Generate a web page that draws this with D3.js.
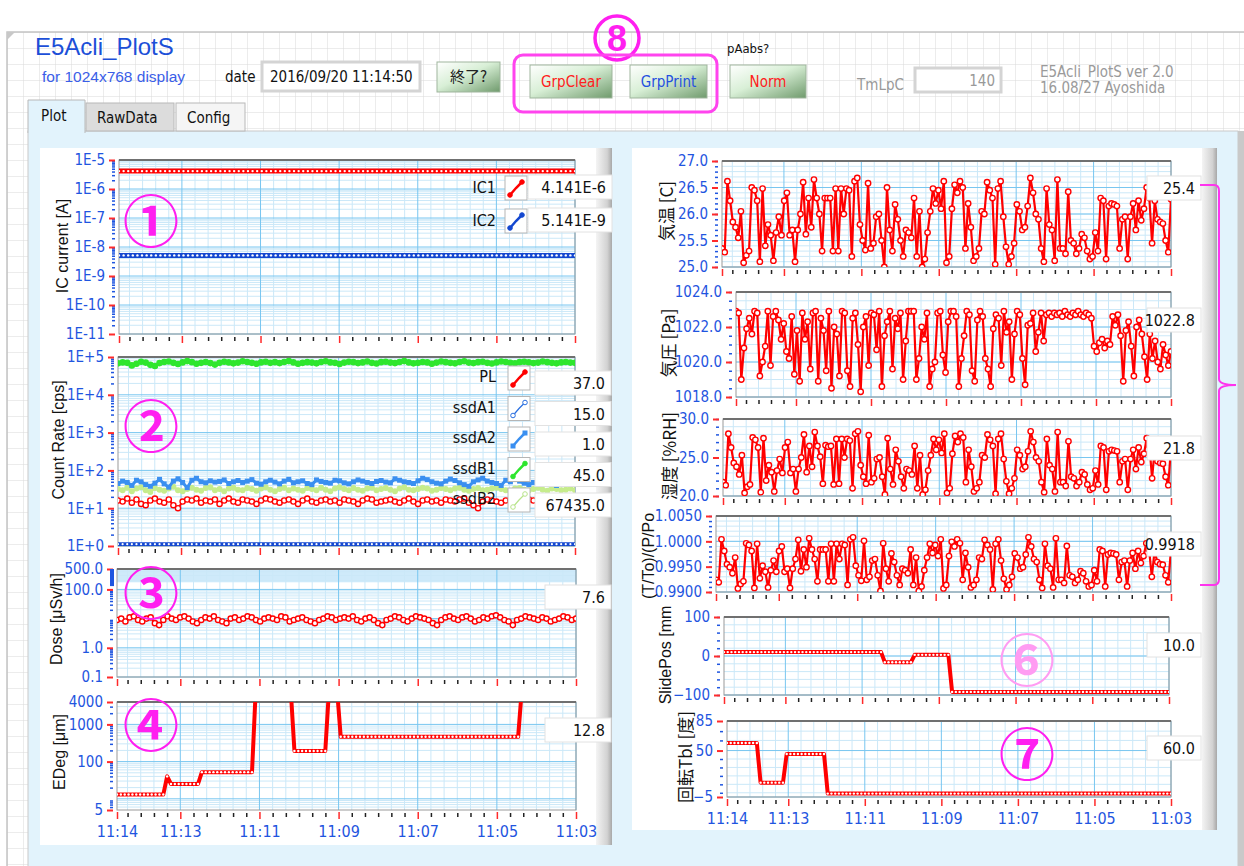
<!DOCTYPE html>
<html>
<head>
<meta charset="utf-8">
<script src="https://cdn.jsdelivr.net/npm/d3@7"></script>
<style>
  body { margin: 0; background: #fff; }
  svg { display: block; }
  text { font-family: "Liberation Sans Narrow", "DejaVu Sans Condensed", "Liberation Sans", sans-serif; }
  .jp { font-family: "Noto Sans CJK JP", sans-serif; }
</style>
</head>
<body>
<svg id="chart" width="1244" height="866"></svg>
<script>
// ---------- time axis ----------
const T_LEFT = new Date(2016, 8, 20, 11, 14, 36);
const T_RIGHT = new Date(2016, 8, 20, 11, 3, 0);
const majorLabels = ["11:13", "11:11", "11:09", "11:07", "11:05", "11:03"];

// ---------- data (newest sample first, left to right) ----------
// step series as [value, sample count] runs
const ic1Runs = [[4.14e-6, 100]];
const ic2Runs = [[5.14e-9, 100]];
const ssdA2Runs = [[1.12, 100]];
const edegRuns = [[13, 13], [40, 1], [25, 8], [52, 14], [9999, 10], [193, 9], [9999, 3], [466, 47], [9999, 15]];
const slideRuns = [[10, 43], [-16, 8], [3, 10], [-92, 59]];
const rotRuns = [[59, 9], [12, 7], [46, 11], [-1, 93]];

const ssdB1 = [6.8e4,7.2e4,7.0e4,6.0e4,6.6e4,7.5e4,7.1e4,6.2e4,5.8e4,6.9e4,7.4e4,7.6e4,7.0e4,6.5e4,7.2e4,7.8e4,7.3e4,6.6e4,7.0e4,7.4e4,
  6.9e4,6.3e4,7.0e4,7.5e4,7.2e4,6.8e4,7.1e4,7.7e4,7.4e4,7.0e4,6.6e4,7.2e4,7.5e4,7.0e4,7.3e4,6.9e4,7.4e4,7.8e4,7.2e4,6.6e4,
  7.0e4,7.3e4,7.1e4,6.8e4,7.4e4,7.7e4,7.2e4,7.0e4,6.5e4,7.1e4,7.5e4,7.3e4,6.9e4,7.2e4,7.6e4,7.0e4,6.7e4,7.3e4,7.5e4,7.1e4,
  6.9e4,7.4e4,7.8e4,7.2e4,6.8e4,7.0e4,7.4e4,7.2e4,6.6e4,7.1e4,7.6e4,7.3e4,7.0e4,6.8e4,7.4e4,7.7e4,7.1e4,6.9e4,7.3e4,7.5e4,
  7.0e4,6.7e4,7.2e4,7.6e4,7.4e4,7.0e4,6.8e4,7.3e4,7.5e4,7.2e4,6.9e4,7.1e4,7.6e4,7.3e4,7.0e4,6.8e4,7.2e4,7.4e4,7.1e4,7.0e4];
const ssdA1 = [45,52,48,40,55,50,42,38,46,58,44,36,52,60,48,35,55,62,50,47,53,49,51,56,45,50,54,48,52,57,
  46,43,50,55,49,44,52,58,47,50,53,45,42,56,51,48,46,55,53,47,44,50,56,52,48,45,51,54,49,47,
  60,55,50,48,45,53,62,57,50,46,44,52,59,54,47,42,38,50,56,62,52,48,45,40,55,50,58,52,46,42,
  48,52,50,47,44,40,45,48,50,46];
const ssdB2 = [32,30,35,28,33,36,30,27,34,31,29,33,37,30,28,32,35,31,29,34,36,30,32,28,33,35,31,30,34,32,
  29,33,36,31,28,32,35,30,33,31,29,34,32,30,35,31,28,33,36,32,30,34,31,29,33,35,30,32,34,31,
  28,33,36,31,30,32,35,33,29,31,34,32,30,33,35,31,29,32,34,30,31,33,35,32,30,28,33,34,31,30,
  32,35,31,29,33,32,30,31,33,30];
const pl = [16,15,18,14,17,13,12,16,18,15,14,17,12,10,15,17,16,18,14,16,15,17,13,16,18,15,14,17,16,15,
  13,16,18,17,15,14,16,17,15,13,16,18,15,14,16,17,15,16,14,17,16,15,13,16,18,17,14,15,16,17,
  15,14,16,18,15,13,16,17,15,16,14,17,16,15,17,18,14,12,10,15,17,16,15,14,16,17,15,16,14,17,
  16,18,15,14,16,17,13,16,15,17];
const dose = [9,10,8,11,12,9,8,10,11,7,6,9,12,10,9,11,12,10,8,7,9,11,10,12,9,8,7,10,11,9,
  10,12,11,9,8,10,11,10,9,12,11,8,9,10,11,9,8,7,9,10,12,11,9,10,11,10,12,9,8,10,
  11,9,7,6,9,10,12,11,9,8,10,12,11,10,9,7,6,9,11,12,10,9,11,12,10,8,9,11,10,12,
  13,11,9,8,6,9,10,12,11,10,9,11,10,8,9,10,12,11,9,10];

const temp = [25.35,25.28,26.62,26.25,25.85,25.75,25.55,26.05,25.08,25.22,25.3,26.5,26.45,26.25,25.1,26.48,25.4,25.8,25.6,25.12,
  25.65,25.95,25.6,26.25,26.4,25.6,25.7,25.1,25.7,26.0,26.6,25.62,26.3,25.75,26.65,26.3,26.0,25.3,26.3,26.3,
  26.3,25.3,26.48,25.3,26.48,26.0,26.48,26.45,25.2,26.62,26.68,25.8,25.5,25.32,26.58,25.35,25.45,25.95,26.0,25.5,
  25.0,26.5,25.7,25.3,26.18,25.9,25.5,25.2,25.7,25.65,25.55,26.3,25.2,26.05,25.0,25.15,25.65,26.05,26.48,26.2,
  26.45,26.1,26.62,25.08,25.2,26.1,26.55,26.4,26.62,26.5,25.35,26.2,25.75,25.12,25.2,25.35,26.05,26.0,26.6,26.45,
  26.3,25.05,26.48,26.62,25.95,25.38,25.05,25.2,25.45,26.18,26.05,25.7,25.75,26.15,26.68,26.4,26.0,25.9,25.35,25.1,
  26.48,25.8,25.7,25.12,26.65,25.35,25.35,25.25,26.42,25.5,25.45,25.25,25.35,25.62,25.55,25.3,25.15,25.2,25.65,25.3,
  26.3,26.25,25.15,26.15,26.2,26.18,26.15,25.35,25.9,25.95,25.15,25.95,26.2,25.7,26.25,25.88,26.1,26.5,26.3,25.45,
  26.25,25.9,25.85,25.82,25.5,25.28,26.28];
const press = [1022.9,1022.8,1019.0,1020.8,1021.9,1022.5,1021.6,1022.9,1022.8,1019.2,1020.0,1020.9,1022.9,1019.8,1022.6,1022.9,1022.4,1021.3,1022.2,1020.6,
  1020.2,1022.6,1019.3,1021.8,1018.9,1022.8,1021.3,1022.3,1019.6,1022.8,1022.9,1018.9,1022.5,1021.8,1019.5,1022.9,1018.5,1022.0,1021.6,1019.2,
  1022.9,1022.8,1019.5,1018.6,1022.5,1022.8,1021.0,1018.3,1022.0,1022.6,1019.8,1022.8,1022.7,1020.7,1022.9,1018.6,1021.5,1022.3,1022.9,1019.6,
  1022.5,1021.9,1022.8,1019.0,1021.2,1022.9,1022.9,1022.9,1019.0,1020.2,1022.0,1021.3,1022.8,1018.6,1019.6,1020.0,1022.8,1022.9,1020.4,1019.4,
  1022.3,1022.9,1022.9,1022.6,1018.6,1020.2,1021.5,1022.9,1022.7,1019.5,1018.9,1022.4,1022.9,1022.6,1020.2,1019.6,1018.6,1021.9,1022.7,1022.5,
  1019.8,1022.9,1021.7,1022.3,1019.0,1021.6,1022.9,1022.7,1020.2,1018.7,1022.1,1022.2,1022.8,1020.6,1021.7,1022.8,1021.2,1022.7,1022.8,1022.6,
  1022.8,1022.7,1022.8,1022.6,1022.9,1022.7,1022.6,1022.8,1022.7,1022.9,1022.7,1022.6,1022.8,1022.7,1022.5,1020.9,1020.6,1021.1,1021.3,1020.8,
  1021.2,1021.0,1022.6,1022.1,1022.7,1021.5,1018.9,1021.8,1022.3,1020.9,1019.2,1022.0,1022.4,1021.6,1020.3,1019.0,1021.6,1020.2,1021.2,1020.0,
  1019.6,1021.0,1020.4,1019.8,1020.6];
const humid = [21.8,21.4,28.1,26.3,24.3,23.8,22.8,25.3,20.4,21.2,21.5,27.6,27.3,26.3,20.5,27.5,22.0,24.0,23.1,20.6,
  23.3,24.8,23.0,26.3,27.0,23.0,23.5,20.6,23.5,25.0,28.0,23.1,26.5,23.8,28.3,26.5,25.1,21.6,26.6,26.4,
  26.5,21.5,27.4,21.6,27.4,25.0,27.4,27.2,21.0,28.1,28.4,24.0,22.5,21.6,27.9,21.8,22.3,24.8,25.0,22.5,
  20.2,27.5,23.5,21.5,26.0,24.5,22.5,21.0,23.5,23.3,22.8,26.5,21.0,25.3,20.2,20.8,23.3,25.3,27.4,26.0,
  27.3,25.6,28.1,20.4,21.0,25.5,27.8,27.0,28.1,27.6,21.8,26.0,23.8,20.6,21.0,21.8,25.3,25.0,28.0,27.3,
  26.5,20.3,27.4,28.1,24.8,21.9,20.3,21.0,22.3,26.0,25.3,23.5,23.8,25.8,28.4,27.0,25.0,24.5,21.8,20.5,
  27.4,24.0,23.5,20.6,28.3,21.8,21.8,21.3,27.1,22.5,22.3,21.3,21.8,23.1,22.8,21.5,20.8,21.0,23.3,21.5,
  26.5,26.3,20.8,25.8,26.0,25.9,25.8,21.8,24.5,24.8,20.8,24.8,26.0,23.5,26.3,24.4,25.5,27.5,26.5,22.3,
  26.3,24.5,24.3,24.2,22.5,21.4,26.4];
const ratio = [0.9924,0.9919,1.0004,0.9981,0.9955,0.9949,0.9937,0.9968,0.9907,0.9916,0.9921,0.9996,0.9993,0.9981,0.9908,0.9995,0.9927,0.9952,0.9940,0.9909,
  0.9943,0.9962,0.9940,0.9981,0.9990,0.9940,0.9946,0.9908,0.9946,0.9965,1.0003,0.9941,0.9984,0.9949,1.0006,0.9984,0.9965,0.9921,0.9984,0.9984,
  0.9984,0.9921,0.9995,0.9921,0.9995,0.9965,0.9995,0.9993,0.9914,1.0004,1.0008,0.9952,0.9933,0.9922,1.0001,0.9924,0.9930,0.9962,0.9965,0.9933,
  0.9902,0.9996,0.9946,0.9921,0.9976,0.9959,0.9933,0.9914,0.9946,0.9943,0.9937,0.9984,0.9914,0.9968,0.9902,0.9911,0.9943,0.9968,0.9995,0.9977,
  0.9993,0.9971,1.0004,0.9907,0.9914,0.9971,0.9999,0.9990,1.0004,0.9996,0.9924,0.9977,0.9949,0.9909,0.9914,0.9924,0.9968,0.9965,1.0003,0.9993,
  0.9984,0.9905,0.9995,1.0004,0.9962,0.9926,0.9905,0.9914,0.9930,0.9976,0.9968,0.9946,0.9949,0.9974,1.0008,0.9990,0.9965,0.9959,0.9924,0.9908,
  0.9995,0.9952,0.9946,0.9909,1.0006,0.9924,0.9924,0.9918,0.9991,0.9933,0.9930,0.9918,0.9924,0.9941,0.9937,0.9921,0.9911,0.9914,0.9943,0.9921,
  0.9984,0.9981,0.9911,0.9974,0.9977,0.9976,0.9974,0.9924,0.9959,0.9962,0.9911,0.9962,0.9977,0.9946,0.9981,0.9957,0.9971,0.9996,0.9984,0.9930,
  0.9981,0.9959,0.9955,0.9954,0.9933,0.9919,0.9983];

// legends and read-outs
const icNames = ["IC1", "IC2"];
const icReadouts = ["4.141E-6", "5.141E-9"];
const crNames = ["PL", "ssdA1", "ssdA2", "ssdB1", "ssdB2"];
const crReadouts = ["37.0", "15.0", "1.0", "45.0", "67435.0"];
const doseReadout = "7.6", edegReadout = "12.8";
const tempReadout = "25.4", pressReadout = "1022.8", humidReadout = "21.8";
const ratioReadout = "0.9918", slideReadout = "10.0", rotReadout = "60.0";

// tick values
const icTicks = [1e-5, 1e-6, 1e-7, 1e-8, 1e-9, 1e-10, 1e-11];
const crTicks = [1e5, 1e4, 1e3, 1e2, 1e1, 1];
const doseTicks = [500, 100, 1, 0.1];
const edegTicks = [4000, 1000, 100, 5];
const tempTicks = [27, 26.5, 26, 25.5, 25];
const pressTicks = [1024, 1022, 1020, 1018];
const humidTicks = [30, 25, 20];
const ratioTicks = [1.005, 1.0, 0.995, 0.99];
const slideTicks = [100, 0, -100];
const rotTicks = [85, 50, -5];

// ---------- helpers ----------
const svg = d3.select("#chart");
const defs = svg.append("defs");
const BLUE_TXT = "#1f55e0", RED = "#ff0000";

function expand(runs) { return runs.flatMap(([v, n]) => Array(n).fill(v)); }
function withTimes(vals) {
  const step = (T_LEFT - T_RIGHT) / (vals.length - 1);
  return vals.map((v, i) => ({ t: new Date(+T_LEFT - i * step), v }));
}
function hm(s) { const [h, m] = s.split(":"); return new Date(2016, 8, 20, +h, +m, 0); }
const majorTimes = majorLabels.map(hm);
const minorTimes = d3.timeSecond.every(20).range(T_RIGHT, T_LEFT)
  .filter(t => !majorTimes.some(m => +m === +t));
function logMinors(lo, hi) {
  const out = [];
  for (let e = Math.floor(Math.log10(lo)); e < Math.ceil(Math.log10(hi)); e++)
    for (let k = 2; k <= 9; k++) { const v = k * Math.pow(10, e); if (v > lo && v < hi) out.push(v); }
  return out;
}
function linMinors(lo, hi, step) {
  return d3.range(Math.round((hi - lo) / step) + 1).map(i => +(lo + i * step).toFixed(6));
}

let clipCount = 0;
function drawPlot(c) {
  const x = d3.scaleTime().domain([T_LEFT, T_RIGHT]).range([c.left, c.right]);
  const y = (c.log ? d3.scaleLog() : d3.scaleLinear()).domain(c.domain).range([c.bottom, c.top]);
  const g = svg.append("g");
  const w = c.right - c.left, h = c.bottom - c.top;
  g.append("rect").attr("x", c.left).attr("y", c.top).attr("width", w).attr("height", h).attr("fill", "#fff");
  (c.bands || []).forEach(b => g.append("rect").attr("x", c.left).attr("width", w)
    .attr("y", y(b[1])).attr("height", y(b[0]) - y(b[1])).attr("fill", "#cfeafa"));

  const vline = (data, col) => g.append("g").selectAll("line").data(data).join("line")
    .attr("x1", d => x(d)).attr("x2", d => x(d)).attr("y1", c.top).attr("y2", c.bottom)
    .attr("stroke", col).attr("stroke-width", 1);
  const hline = (data, col) => g.append("g").selectAll("line").data(data).join("line")
    .attr("x1", c.left).attr("x2", c.right).attr("y1", d => y(d)).attr("y2", d => y(d))
    .attr("stroke", col).attr("stroke-width", 1);
  vline(minorTimes, "#cbe8f8");
  hline(c.minors, "#cbe8f8");
  vline(majorTimes, "#78c6f0");
  hline(c.grid || c.ticks, "#78c6f0");
  g.append("rect").attr("x", c.left).attr("y", c.top).attr("width", w).attr("height", h)
    .attr("fill", "none").attr("stroke", "#9a9a9a");
  g.append("line").attr("x1", c.left).attr("x2", c.right).attr("y1", c.top).attr("y2", c.top)
    .attr("stroke", "#707070").attr("stroke-width", 2);

  // y axis
  const ym = g.append("g").attr("transform", `translate(${c.left - 4},0)`)
    .call(d3.axisLeft(y).tickValues(c.minors).tickFormat("").tickSize(3));
  ym.select(".domain").remove();
  ym.selectAll("line").attr("stroke", BLUE_TXT).attr("stroke-width", 1.5);
  const ya = g.append("g").attr("transform", `translate(${c.left - 4},0)`)
    .call(d3.axisLeft(y).tickValues(c.ticks).tickFormat(c.fmt).tickSize(6).tickPadding(4));
  ya.select(".domain").remove();
  ya.selectAll("line").attr("stroke", "#ff2a2a").attr("stroke-width", 2);
  ya.selectAll("text").attr("fill", BLUE_TXT).style("font-size", "15px");

  // x axis
  const xm = g.append("g").attr("transform", `translate(0,${c.bottom + 3})`)
    .call(d3.axisBottom(x).tickValues(minorTimes).tickFormat("").tickSize(4));
  xm.select(".domain").remove();
  xm.selectAll("line").attr("stroke", "#222").attr("stroke-width", 1.5);
  const xa = g.append("g").attr("transform", `translate(0,${c.bottom + 2})`)
    .call(d3.axisBottom(x).tickValues([T_LEFT, ...majorTimes]).tickFormat(d3.timeFormat("%H:%M"))
      .tickSize(7).tickPadding(7));
  xa.select(".domain").remove();
  xa.selectAll("line").attr("stroke", "#ff2a2a").attr("stroke-width", 1.5);
  xa.selectAll("text").attr("fill", BLUE_TXT).style("font-size", "16px")
    .style("display", c.xLabels ? null : "none");

  const id = "clip" + (clipCount++);
  defs.append("clipPath").attr("id", id).append("rect")
    .attr("x", c.left).attr("y", c.top).attr("width", w).attr("height", h);
  return { x, y, clip: id };
}

function drawSeries(p, vals, s) {
  const pts = withTimes(vals);
  const g = svg.append("g").attr("clip-path", `url(#${p.clip})`);
  g.append("path").datum(pts)
    .attr("d", d3.line().x(d => p.x(d.t)).y(d => p.y(d.v)))
    .attr("fill", "none").attr("stroke", s.color).attr("stroke-width", s.width)
    .attr("stroke-linejoin", "round");
  if (s.marker === "square") {
    g.selectAll("rect").data(pts).join("rect")
      .attr("x", d => p.x(d.t) - 2.5).attr("y", d => p.y(d.v) - 2.5)
      .attr("width", 5).attr("height", 5).attr("fill", s.color);
  } else if (s.marker) {
    const hollow = s.marker === "hollow", dot = s.marker === "dot";
    g.selectAll("circle").data(pts).join("circle")
      .attr("cx", d => p.x(d.t)).attr("cy", d => p.y(d.v))
      .attr("r", s.r || 2.6)
      .attr("fill", hollow || dot ? "#fff" : s.color)
      .attr("stroke", dot ? "none" : s.color)
      .attr("stroke-width", 1.4);
  }
}

function readout(x, y, w, txt) {
  svg.append("rect").attr("x", x).attr("y", y - 12).attr("width", w).attr("height", 24)
    .attr("fill", "#fff").attr("stroke", "#e2e2e2");
  svg.append("text").attr("x", x + w - 6).attr("y", y + 6).attr("text-anchor", "end")
    .style("font-size", "16px").attr("fill", "#111").text(txt);
}
function swatch(x, y, color, marker) {
  const g = svg.append("g").attr("transform", `translate(${x},${y})`);
  g.append("rect").attr("width", 22).attr("height", 24).attr("fill", "#fff").attr("stroke", "#b5b5b5");
  g.append("path").attr("d", "M5,19 L11,12 L17,6").attr("fill", "none")
    .attr("stroke", color).attr("stroke-width", marker === "thin" ? 1.2 : 2.5);
  [[5, 19], [17, 6]].forEach(([cx, cy]) => {
    if (marker === "square") g.append("rect").attr("x", cx - 2.5).attr("y", cy - 2.5).attr("width", 5).attr("height", 5).attr("fill", color);
    else g.append("circle").attr("cx", cx).attr("cy", cy).attr("r", 2.3)
      .attr("fill", marker === "hollow" || marker === "thin" ? "#fff" : color).attr("stroke", color);
  });
}
function yTitle(x, y, txt, jp) {
  svg.append("text").attr("transform", `translate(${x},${y}) rotate(-90)`)
    .attr("text-anchor", "middle").attr("dominant-baseline", "central")
    .attr("class", jp ? "jp" : null).style("font-size", jp ? "17px" : "16px")
    .style("font-family", jp ? null : "'Liberation Sans', sans-serif")
    .attr("fill", "#111").text(txt);
}
function circled(x, y, ch, col) {
  svg.append("text").attr("x", x).attr("y", y).attr("class", "jp")
    .attr("text-anchor", "middle").attr("dominant-baseline", "central")
    .style("font-size", "56px").style("font-weight", "700").attr("fill", col).text(ch);
}

// ---------- front panel ----------
const pat = defs.append("pattern").attr("id", "grid").attr("width", 16).attr("height", 16)
  .attr("patternUnits", "userSpaceOnUse").attr("x", 7).attr("y", 32);
pat.append("path").attr("d", "M16,0 L0,0 L0,16").attr("fill", "none").attr("stroke", "#d9d9d9");
svg.append("rect").attr("x", 7).attr("y", 32).attr("width", 1237).attr("height", 834).attr("fill", "url(#grid)");
svg.append("path").attr("d", "M7,866 L7,32 L1244,32").attr("fill", "none").attr("stroke", "#c4c4c4").attr("stroke-width", 1.5);
svg.append("path").attr("d", "M7,32 L15,32 L7,40 Z").attr("fill", "#c8c8c8");

const bg = defs.append("linearGradient").attr("id", "btn").attr("x1", 0).attr("y1", 0).attr("x2", 1).attr("y2", 1);
bg.append("stop").attr("offset", 0).attr("stop-color", "#ffffff");
bg.append("stop").attr("offset", 0.45).attr("stop-color", "#d8efd6");
bg.append("stop").attr("offset", 1).attr("stop-color", "#6f9a6c");
function button(x, y, w, h, txt, col, jp) {
  svg.append("rect").attr("x", x).attr("y", y).attr("width", w).attr("height", h)
    .attr("fill", "url(#btn)").attr("stroke", "#9fb59d");
  svg.append("text").attr("x", x + w / 2).attr("y", y + h / 2 + 5).attr("text-anchor", "middle")
    .attr("class", jp ? "jp" : null).style("font-size", "15px").attr("fill", col).text(txt);
}

svg.append("text").attr("x", 35).attr("y", 55).style("font-size", "24px")
  .style("font-family", "'Liberation Sans', sans-serif").attr("fill", "#1c4fd8").text("E5Acli_PlotS");
svg.append("text").attr("x", 42).attr("y", 82).style("font-size", "15.5px")
  .style("font-family", "'Liberation Sans', sans-serif").attr("fill", "#3a5ee8").text("for 1024x768 display");
svg.append("text").attr("x", 225).attr("y", 82).style("font-size", "15px").attr("fill", "#111").text("date");
svg.append("rect").attr("x", 262).attr("y", 62).attr("width", 158).attr("height", 29)
  .attr("fill", "#fff").attr("stroke", "#d4d4d4").attr("stroke-width", 3);
svg.append("text").attr("x", 270).attr("y", 82).style("font-size", "15px").attr("fill", "#111").text("2016/09/20 11:14:50");
button(437, 62, 63, 30, "終了?", "#222", true);
button(530, 65, 82, 33, "GrpClear", "#ff2020");
button(630, 65, 77, 33, "GrpPrint", "#2550e0");
button(730, 65, 76, 33, "Norm", "#ff2020");
svg.append("text").attr("x", 727).attr("y", 53).style("font-size", "13px").attr("fill", "#111").text("pAabs?");
svg.append("text").attr("x", 857).attr("y", 90).style("font-size", "15px").attr("fill", "#999").text("TmLpC");
svg.append("rect").attr("x", 915).attr("y", 68).attr("width", 86).attr("height", 24)
  .attr("fill", "#fff").attr("stroke", "#d4d4d4").attr("stroke-width", 3);
svg.append("text").attr("x", 995).attr("y", 86).attr("text-anchor", "end").style("font-size", "15px").attr("fill", "#999").text("140");
svg.append("text").attr("x", 1040).attr("y", 77).style("font-size", "15px").attr("fill", "#9a9a9a").text("E5Acli_PlotS ver 2.0");
svg.append("text").attr("x", 1040).attr("y", 93).style("font-size", "15px").attr("fill", "#9a9a9a").text("16.08/27 Ayoshida");

// tab control
svg.append("rect").attr("x", 28).attr("y", 131).attr("width", 1210).attr("height", 740)
  .attr("fill", "#e2f3fc").attr("stroke", "#c9c9c9");
svg.append("rect").attr("x", 1238).attr("y", 131).attr("width", 6).attr("height", 735).attr("fill", "#c9c9c9");
svg.append("rect").attr("x", 86).attr("y", 103).attr("width", 88).attr("height", 28).attr("fill", "#dcdcdc").attr("stroke", "#b8b8b8");
svg.append("rect").attr("x", 176).attr("y", 103).attr("width", 69).attr("height", 28).attr("fill", "#f5f5f5").attr("stroke", "#b8b8b8");
svg.append("path").attr("d", "M28,133 L28,100 L85,100 L85,133").attr("fill", "#e2f3fc").attr("stroke", "#b8b8b8");
svg.append("text").attr("x", 41).attr("y", 121).style("font-size", "15px").attr("fill", "#111").text("Plot");
svg.append("text").attr("x", 97).attr("y", 123).style("font-size", "15px").attr("fill", "#111").text("RawData");
svg.append("text").attr("x", 187).attr("y", 123).style("font-size", "15px").attr("fill", "#111").text("Config");

// white chart panels with bevelled right edge
const bev = defs.append("linearGradient").attr("id", "bev").attr("x1", 0).attr("x2", 1);
bev.append("stop").attr("offset", 0).attr("stop-color", "#f4f4f4");
bev.append("stop").attr("offset", 0.7).attr("stop-color", "#d2d2d2");
bev.append("stop").attr("offset", 1).attr("stop-color", "#a8a8a8");
svg.append("rect").attr("x", 40).attr("y", 148).attr("width", 572).attr("height", 697).attr("fill", "#fff");
svg.append("rect").attr("x", 596).attr("y", 148).attr("width", 16).attr("height", 697).attr("fill", "url(#bev)");
svg.append("rect").attr("x", 632).attr("y", 148).attr("width", 585).attr("height", 682).attr("fill", "#fff");
svg.append("rect").attr("x", 1202).attr("y", 148).attr("width", 15).attr("height", 682).attr("fill", "url(#bev)");

// ---------- left charts ----------
const expFmt = d => { const e = Math.round(Math.log10(d)); return "1E" + (e >= 0 ? "+" : "") + e; };
const p1 = drawPlot({ left: 119, right: 575, top: 160, bottom: 334, log: true, domain: [1e-11, 1e-5],
  ticks: icTicks, fmt: expFmt, minors: logMinors(1e-11, 1e-5) });
drawSeries(p1, expand(ic1Runs), { color: RED, width: 5, marker: "dot", r: 1.2 });
drawSeries(p1, expand(ic2Runs), { color: "#1448d0", width: 5, marker: "dot", r: 1.2 });

const p2 = drawPlot({ left: 118, right: 575, top: 357, bottom: 546, log: true, domain: [1, 1e5],
  ticks: crTicks, fmt: expFmt, minors: logMinors(1, 1e5) });
drawSeries(p2, ssdB1, { color: "#2ee62e", width: 3, marker: "filled", r: 2.6 });
drawSeries(p2, ssdB2, { color: "#c6ec8c", width: 2.5, marker: "filled", r: 2.3 });
drawSeries(p2, ssdA1, { color: "#3a8ff0", width: 3, marker: "square" });
drawSeries(p2, pl, { color: RED, width: 2, marker: "hollow", r: 2.6 });
drawSeries(p2, expand(ssdA2Runs), { color: "#1448d0", width: 4, marker: "dot", r: 1.1 });

const p3 = drawPlot({ left: 117, right: 576, top: 569, bottom: 677, log: true, domain: [0.1, 500],
  ticks: doseTicks, grid: [100, 10, 1, 0.1], fmt: d3.format(".1f"), minors: logMinors(0.1, 500), bands: [[175, 500]] });
svg.append("rect").attr("x", 110).attr("y", p3.y(500)).attr("width", 4).attr("height", p3.y(130) - p3.y(500)).attr("fill", "#1f55e0");
drawSeries(p3, dose, { color: RED, width: 2, marker: "hollow", r: 2.6 });

const p4 = drawPlot({ left: 117, right: 576, top: 702, bottom: 810, log: true, domain: [5, 4000],
  ticks: edegTicks, grid: [1000, 100, 10], fmt: d3.format("d"), minors: logMinors(5, 4000), xLabels: true });
drawSeries(p4, expand(edegRuns), { color: RED, width: 4, marker: "dot", r: 1.2 });

// left legends
icNames.forEach((n, i) => {
  const cy = [188, 221][i];
  svg.append("text").attr("x", 496).attr("y", cy + 5).attr("text-anchor", "end")
    .style("font-size", "16px").attr("fill", "#111").text(n);
  swatch(505, cy - 12, i ? "#1448d0" : RED, "filled");
  readout(528, cy - 1, 84, icReadouts[i]);
});
const crColors = [RED, "#2a6fe0", "#3a8ff0", "#2ee62e", "#b8e48a"];
const crMarks = ["filled", "thin", "square", "filled", "thin"];
crNames.forEach((n, i) => {
  const cy = 377 + i * 30.5;
  svg.append("text").attr("x", 496).attr("y", cy + 5).attr("text-anchor", "end")
    .style("font-size", "16px").attr("fill", "#111").text(n);
  swatch(508, cy - 11, crColors[i], crMarks[i]);
  readout(535, cy + 6, 76, crReadouts[i]);
});
readout(545, 597, 66, doseReadout);
readout(545, 730, 66, edegReadout);

yTitle(62, 246, "IC current  [A]");
yTitle(58, 440, "Count Rate [cps]");
yTitle(56, 619, "Dose [μSv/h]");
yTitle(59, 752, "EDeg [μm]");

// ---------- right charts ----------
const p5 = drawPlot({ left: 722, right: 1171, top: 161, bottom: 267, domain: [25, 27],
  ticks: tempTicks, fmt: d3.format(".1f"), minors: linMinors(25, 27, 0.1) });
drawSeries(p5, temp, { color: RED, width: 2.2, marker: "hollow", r: 2.7 });

const p6 = drawPlot({ left: 736, right: 1171, top: 292, bottom: 397, domain: [1018, 1024],
  ticks: pressTicks, fmt: d3.format(".1f"), minors: linMinors(1018, 1024, 0.5) });
drawSeries(p6, press, { color: RED, width: 2.2, marker: "hollow", r: 2.7 });

const p7 = drawPlot({ left: 723, right: 1171, top: 419, bottom: 496, domain: [20, 30],
  ticks: humidTicks, fmt: d3.format(".1f"), minors: linMinors(20, 30, 1) });
drawSeries(p7, humid, { color: RED, width: 2.2, marker: "hollow", r: 2.7 });

const p8 = drawPlot({ left: 716, right: 1171, top: 516, bottom: 592, domain: [0.99, 1.005],
  ticks: ratioTicks, fmt: d3.format(".4f"), minors: linMinors(0.99, 1.005, 0.001) });
drawSeries(p8, ratio, { color: RED, width: 2.2, marker: "hollow", r: 2.7 });

const p9 = drawPlot({ left: 724, right: 1169, top: 617, bottom: 695, domain: [-100, 100],
  ticks: slideTicks, fmt: d3.format("d"), minors: linMinors(-100, 100, 20) });
drawSeries(p9, expand(slideRuns), { color: RED, width: 4, marker: "dot", r: 1.2 });

const p10 = drawPlot({ left: 727, right: 1171, top: 721, bottom: 797, domain: [-5, 85],
  ticks: rotTicks, fmt: d3.format("d"), minors: [0, 10, 20, 30, 40, 62, 73], xLabels: true });
drawSeries(p10, expand(rotRuns), { color: RED, width: 4, marker: "dot", r: 1.2 });

readout(1147, 188, 54, tempReadout);
readout(1147, 320, 54, pressReadout);
readout(1147, 448, 54, humidReadout);
readout(1147, 544, 54, ratioReadout);
readout(1147, 645, 54, slideReadout);
readout(1147, 748, 54, rotReadout);

yTitle(665, 211, "気温 [C]", true);
yTitle(667, 343, "気圧 [Pa]", true);
yTitle(668, 456, "湿度 [%RH]", true);
yTitle(648, 556, "(T/To)/(P/Po");
yTitle(665, 655, "SlidePos [mm");
yTitle(684, 757, "回転Tbl [度]", true);

// ---------- annotations ----------
const MAG = "#ff1ff0";
circled(151, 217, "①", MAG);
circled(151, 422, "②", MAG);
circled(151, 589, "③", MAG);
circled(151, 721, "④", MAG);
circled(1027, 656, "⑥", "#ff9cf2");
circled(1027, 750, "⑦", MAG);
// ⑧ as ring + digit so it stays inside the top edge
svg.append("circle").attr("cx", 617).attr("cy", 38).attr("r", 22)
  .attr("fill", "none").attr("stroke", MAG).attr("stroke-width", 3.5);
svg.append("text").attr("x", 617).attr("y", 51).attr("text-anchor", "middle")
  .style("font-family", "'Liberation Sans', sans-serif").style("font-size", "36px")
  .style("font-weight", "700").attr("fill", MAG).text("8");
svg.append("rect").attr("x", 514).attr("y", 55).attr("width", 203).attr("height", 57).attr("rx", 9)
  .attr("fill", "none").attr("stroke", "#ff44ee").attr("stroke-width", 3);
svg.append("path")
  .attr("d", "M1200,185 L1214,185 Q1219,185 1219,191 L1219,379 Q1219,385 1236,385 Q1219,385 1219,391 L1219,579 Q1219,585 1214,585 L1200,585")
  .attr("fill", "none").attr("stroke", "#ff33ee").attr("stroke-width", 2);
</script>
</body>
</html>
